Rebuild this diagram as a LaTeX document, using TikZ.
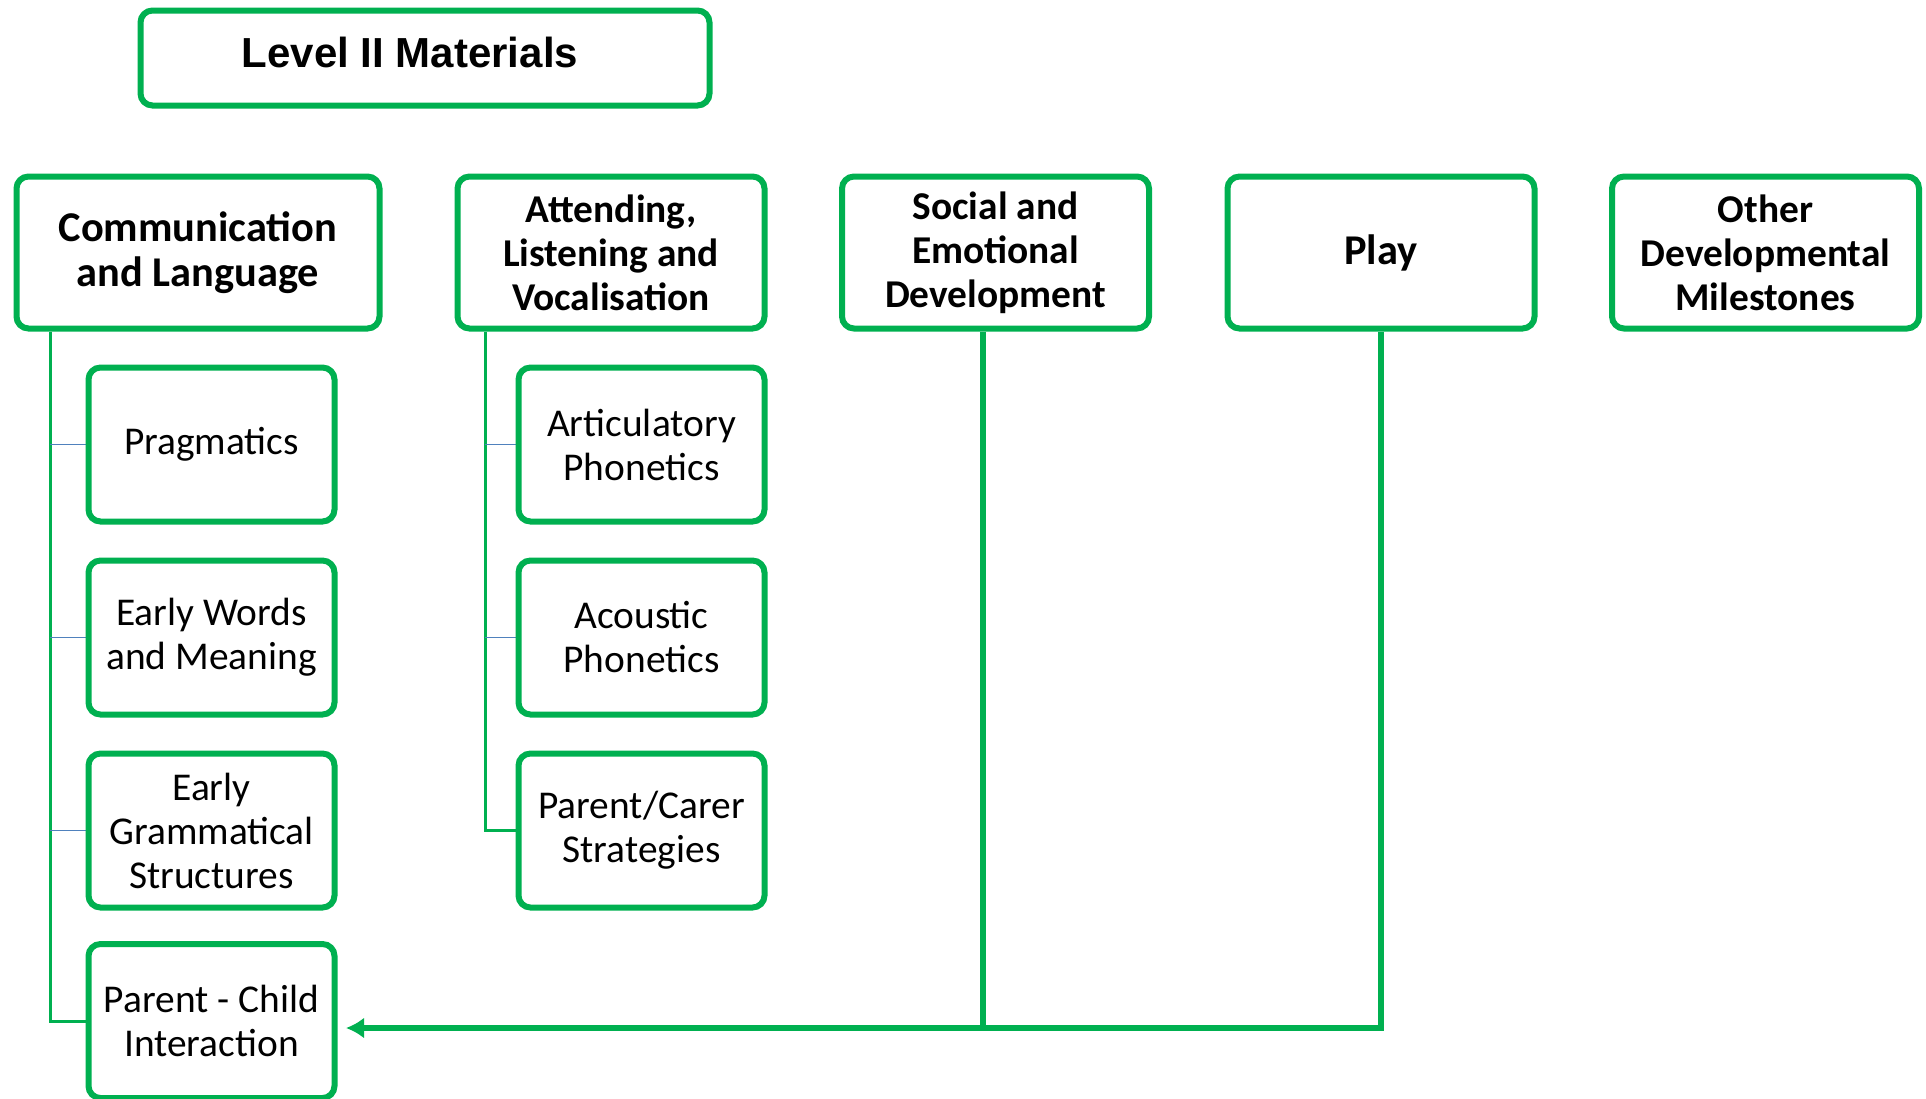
\documentclass[tikz,border=0pt]{standalone}
\usepackage{fontspec}
\setmainfont{Carlito}
\newfontfamily\titlefont{Liberation Sans}
\usetikzlibrary{arrows.meta,backgrounds}

\definecolor{boxgreen}{RGB}{0,176,80}
\definecolor{branchblue}{RGB}{79,129,189}

\tikzset{
  box/.style={draw=boxgreen, line width=3pt, rounded corners=6pt, fill=white, align=center, inner sep=2pt},
  headbox/.style={box, minimum width=153.5pt, minimum height=76pt, font=\fontsize{19.7}{22}\selectfont\bfseries},
  subbox/.style={box, minimum width=123pt, minimum height=77pt, font=\fontsize{19.7}{22}\selectfont},
  trunk/.style={draw=boxgreen, line width=1.5pt},
  branch/.style={draw=branchblue, line width=0.75pt},
  thickline/.style={draw=boxgreen, line width=2.75pt, line join=miter}
}

\begin{document}
\begin{tikzpicture}[x=0.5pt,y=-0.5pt]
    \useasboundingbox (0,0) rectangle (1926,1098);
    % title
    \node[box, minimum width=284.5pt, minimum height=47.5pt, text depth=6pt, font=\titlefont\fontsize{21}{24}\selectfont\bfseries] (title) at (425,58) {Level II Materials\hspace*{15pt}};
    % top row
    \node[headbox, minimum width=181.5pt, font=\fontsize{21.2}{22.7}\selectfont\bfseries] (cl) at (198,252.5) {Communication\\and Language};
    \node[headbox] (alv) at (611,252.5) {Attending,\\Listening and\\Vocalisation};
    \node[headbox] (sed) at (995.5,252.5) {Social and\\Emotional\\Development};
    \node[headbox, font=\fontsize{21.2}{22.7}\selectfont\bfseries] (play) at (1381,252.5) {Play};
    \node[headbox] (odm) at (1765.5,252.5) {Other\\Developmental\\Milestones};
    % first column
    \node[subbox] (prag) at (211.5,444.5) {Pragmatics};
    \node[subbox] (ewm) at (211.5,637.5) {Early Words\\and Meaning};
    \node[subbox] (egs) at (211.5,830.5) {Early\\Grammatical\\Structures};
    \node[subbox] (pci) at (211.5,1021) {Parent - Child\\Interaction};
    % second column
    \node[subbox] (art) at (641.5,444.5) {Articulatory\\Phonetics};
    \node[subbox] (aco) at (641.5,637.5) {Acoustic\\Phonetics};
    \node[subbox] (pcs) at (641.5,830.5) {Parent/Carer\\Strategies};

    \begin{scope}[on background layer]
    \coordinate (clfoot) at ([xshift=18.25pt]cl.south west);
    \coordinate (alvfoot) at ([xshift=15.25pt]alv.south west);
    \coordinate (sedfoot) at ([xshift=-6.25pt]sed.south);
    \coordinate (arrowend) at ([yshift=-3.5pt]pci.east);
    \draw[trunk] (clfoot) |- (pci.west);
    \draw[branch] (prag.west) -- (prag.west -| clfoot);
    \draw[branch] (ewm.west) -- (ewm.west -| clfoot);
    \draw[branch] (egs.west) -- (egs.west -| clfoot);
    \draw[trunk] (alvfoot) |- (pcs.west);
    \draw[branch] (art.west) -- (art.west -| alvfoot);
    \draw[branch] (aco.west) -- (aco.west -| alvfoot);
    \draw[thickline] (sedfoot) -- (sedfoot |- arrowend);
    \draw[thickline,-{Latex[length=9pt,width=10.5pt]},shorten >=4.25pt] (play.south) |- (arrowend);
    \end{scope}
\end{tikzpicture}
\end{document}
